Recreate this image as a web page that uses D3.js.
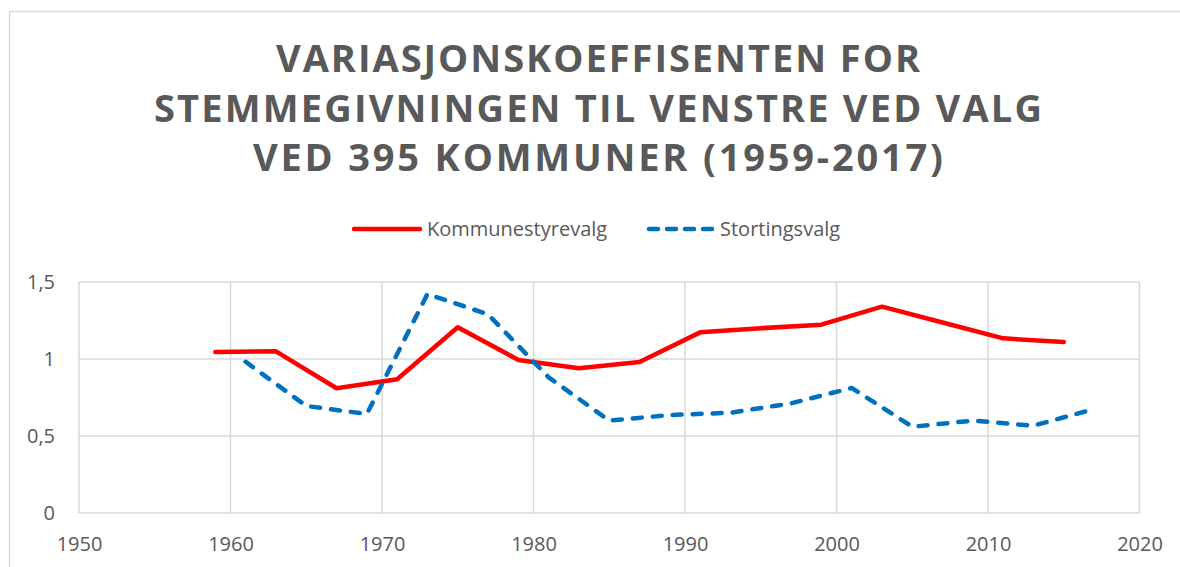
<!DOCTYPE html>
<html>
<head>
<meta charset="utf-8">
<script src="https://cdn.jsdelivr.net/npm/d3@7"></script>
<style>
  body { margin: 0; background: #fff; }
  text { font-family: "Open Sans", sans-serif; fill: #595959; }
</style>
</head>
<body>
<div id="chart"></div>
<script>
// Chart data
var titleLines = ["VARIASJONSKOEFFISENTEN FOR", "STEMMEGIVNINGEN TIL VENSTRE VED VALG", "VED 395 KOMMUNER (1959-2017)"];
var seriesNames = ["Kommunestyrevalg", "Stortingsvalg"];

var kommuneYears = [1959, 1963, 1967, 1971, 1975, 1979, 1983, 1987, 1991, 1995, 1999, 2003, 2007, 2011, 2015];
var kommuneValues = [1.045, 1.05, 0.81, 0.868, 1.206, 0.994, 0.94, 0.98, 1.173, 1.2, 1.223, 1.34, 1.237, 1.134, 1.11];

var stortingYears = [1961, 1965, 1969, 1973, 1977, 1981, 1985, 1989, 1993, 1997, 2001, 2005, 2009, 2013, 2017];
var stortingValues = [0.982, 0.695, 0.643, 1.422, 1.29, 0.881, 0.6, 0.636, 0.651, 0.712, 0.812, 0.56, 0.6, 0.567, 0.675];

var xTicks = [1950, 1960, 1970, 1980, 1990, 2000, 2010, 2020];
var yTicks = [0, 0.5, 1, 1.5];

// svg area and plot margins
var svgWidth = 1180;
var svgHeight = 567;
var margin = { top: 282, bottom: 54, left: 79, right: 40.5 };
var chartWidth = svgWidth - margin.left - margin.right;
var chartHeight = svgHeight - margin.top - margin.bottom;

var svg = d3.select("#chart")
    .append("svg")
    .attr("width", svgWidth)
    .attr("height", svgHeight);

// outer chart frame
svg.append("rect")
    .attr("x", 9.5)
    .attr("y", 11.5)
    .attr("width", 1200)
    .attr("height", 600)
    .attr("fill", "none")
    .attr("stroke", "#d9d9d9")
    .attr("stroke-width", 1.5);

// title, letter-spaced to the reference widths
var titleWidths = [644, 888, 690];
var title = svg.append("g");
titleLines.forEach(function(line, i) {
    var t = title.append("text")
        .attr("x", 598)
        .attr("y", 72 + i * 49.5)
        .attr("text-anchor", "middle")
        .style("font-size", "38px")
        .style("font-weight", "bold")
        .text(line);
    var natural = t.node().getComputedTextLength();
    var ls = (titleWidths[i] - natural) / (line.length - 1);
    t.style("letter-spacing", ls + "px")
        .attr("x", 598 + ls / 2);
});

var chartGroup = svg.append("g")
    .attr("transform", `translate(${margin.left}, ${margin.top})`);

var xScale = d3.scaleLinear()
    .domain([1950, 2020])
    .range([0, chartWidth]);

var yScale = d3.scaleLinear()
    .domain([0, 1.5])
    .range([chartHeight, 0]);

// gridlines
chartGroup.append("g")
    .selectAll("line")
    .data(yTicks)
    .enter()
    .append("line")
    .attr("x1", 0)
    .attr("x2", chartWidth)
    .attr("y1", d => yScale(d))
    .attr("y2", d => yScale(d))
    .attr("stroke", "#d9d9d9")
    .attr("stroke-width", 1.5);

chartGroup.append("g")
    .selectAll("line")
    .data(xTicks)
    .enter()
    .append("line")
    .attr("x1", d => xScale(d))
    .attr("x2", d => xScale(d))
    .attr("y1", 0)
    .attr("y2", chartHeight)
    .attr("stroke", "#d9d9d9")
    .attr("stroke-width", 1.5);

// axes (labels only, lines hidden)
var xAxis = d3.axisBottom(xScale).tickValues(xTicks).tickFormat(d3.format("d")).tickSize(0).tickPadding(24);
var yAxis = d3.axisLeft(yScale).tickValues(yTicks).tickFormat(d => String(d).replace(".", ",")).tickSize(0).tickPadding(24);

var gx = chartGroup.append("g")
    .attr("transform", `translate(0, ${chartHeight})`)
    .call(xAxis);
var gy = chartGroup.append("g").call(yAxis);
[gx, gy].forEach(function(g) {
    g.select(".domain").remove();
    g.selectAll("text")
        .style("font-size", "20px")
        .style("font-family", "'Open Sans', sans-serif")
        .attr("fill", "#595959");
});

// lines
var kommuneData = kommuneYears.map((y, i) => ({ year: y, value: kommuneValues[i] }));
var stortingData = stortingYears.map((y, i) => ({ year: y, value: stortingValues[i] }));

var line = d3.line()
    .x(d => xScale(d.year))
    .y(d => yScale(d.value));

chartGroup.append("path")
    .datum(kommuneData)
    .attr("d", line)
    .attr("fill", "none")
    .attr("stroke", "#ff0000")
    .attr("stroke-width", 4.5)
    .attr("stroke-linecap", "round")
    .attr("stroke-linejoin", "round");

chartGroup.append("path")
    .datum(stortingData)
    .attr("d", line)
    .attr("fill", "none")
    .attr("stroke", "#0070c0")
    .attr("stroke-width", 4.5)
    .attr("stroke-dasharray", "9,11")
    .attr("stroke-linecap", "round")
    .attr("stroke-linejoin", "round");

// legend
var legend = svg.append("g");
legend.append("line")
    .attr("x1", 354).attr("x2", 420)
    .attr("y1", 229).attr("y2", 229)
    .attr("stroke", "#ff0000")
    .attr("stroke-width", 4.5)
    .attr("stroke-linecap", "round");
legend.append("text")
    .attr("x", 427).attr("y", 236)
    .style("font-size", "20px")
    .text(seriesNames[0]);
legend.append("line")
    .attr("x1", 649).attr("x2", 713)
    .attr("y1", 229).attr("y2", 229)
    .attr("stroke", "#0070c0")
    .attr("stroke-width", 4.5)
    .attr("stroke-dasharray", "9,9")
    .attr("stroke-linecap", "round");
legend.append("text")
    .attr("x", 720).attr("y", 236)
    .style("font-size", "20px")
    .text(seriesNames[1]);
</script>
</body>
</html>
